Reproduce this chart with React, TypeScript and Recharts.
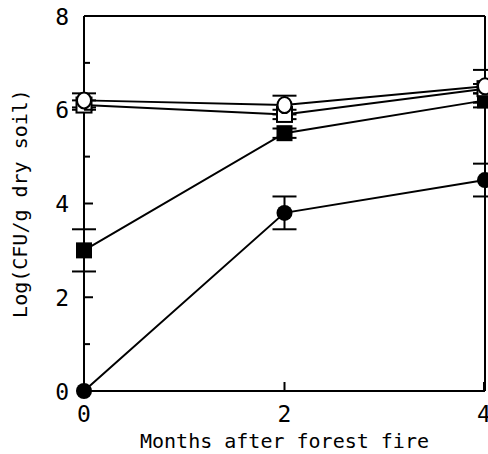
import React from 'react';
import { ComposedChart, Line, XAxis, YAxis, ErrorBar } from 'recharts';

const months = [0, 2, 4];
const openCircle = [6.2, 6.1, 6.5];
const openCircleErr = [0.15, 0.2, 0.35];
const openSquare = [6.1, 5.9, 6.45];
const openSquareErr = [0.1, 0.1, 0.1];
const filledSquare = [3.0, 5.5, 6.2];
const filledSquareErr = [0.45, 0.1, 0.15];
const filledCircle = [0, 3.8, 4.5];
const filledCircleErr = [0, 0.35, 0.35];

const yTicks = [0, 1, 2, 3, 4, 5, 6, 7, 8];
const yLabels = [0, 2, 4, 6, 8];
const xTicks = [0, 2, 4];

const build = (vals: number[], errs: number[]) =>
  months.map((m, i) => ({ month: m, value: vals[i], err: errs[i] }));

const INK = '#000';
const numFont = '"DejaVu Sans Mono", monospace';

const YTick = (props: any) => {
  const { x, y, payload } = props;
  const major = yLabels.includes(payload.value);
  const axisX = x + 8;
  return (
    <g>
      <line x1={axisX} y1={y} x2={axisX + (major ? 9 : 6)} y2={y} stroke={INK} strokeWidth={2} />
      {major && (
        <text x={x - 7} y={y + 8.5} textAnchor="end" fontSize={23} fontFamily={numFont} fill={INK}>
          {payload.value}
        </text>
      )}
    </g>
  );
};

const XTick = (props: any) => {
  const { x, y, payload } = props;
  const axisY = y - 6;
  return (
    <g>
      <line x1={x} y1={axisY} x2={x} y2={axisY - 9} stroke={INK} strokeWidth={2} />
      <text x={x} y={y + 25} textAnchor="middle" fontSize={23} fontFamily={numFont} fill={INK}>
        {payload.value}
      </text>
    </g>
  );
};

const dotShape = (kind: string) => (props: any) => {
  const { cx, cy, index } = props;
  const k = `${kind}-${index}`;
  if (kind === 'oc')
    return <ellipse key={k} cx={cx} cy={cy} rx={7} ry={8} fill="#fff" stroke={INK} strokeWidth={2} />;
  if (kind === 'os')
    return <rect key={k} x={cx - 7.5} y={cy - 7.5} width={15} height={15} fill="#fff" stroke={INK} strokeWidth={2} />;
  if (kind === 'fs')
    return <rect key={k} x={cx - 8} y={cy - 8} width={16} height={16} fill={INK} />;
  return <circle key={k} cx={cx} cy={cy} r={8} fill={INK} />;
};

const series = [
  { id: 'fc', data: build(filledCircle, filledCircleErr) },
  { id: 'fs', data: build(filledSquare, filledSquareErr) },
  { id: 'os', data: build(openSquare, openSquareErr) },
  { id: 'oc', data: build(openCircle, openCircleErr) },
];

export default function App() {
  return (
    <div style={{ position: 'absolute', left: 0, top: 0, background: '#fff' }}>
      <ComposedChart width={488} height={454} margin={{ top: 15, right: 2, bottom: 62, left: 83 }}>
        <XAxis
          dataKey="month"
          type="number"
          domain={[0, 4]}
          ticks={xTicks}
          allowDuplicatedCategory={false}
          height={1}
          stroke={INK}
          strokeWidth={2}
          tickLine={false}
          tickSize={0}
          tickMargin={6}
          tick={<XTick />}
          label={{ value: 'Months after forest fire', position: 'bottom', offset: 42, fontSize: 20, fontFamily: numFont, fill: INK }}
        />
        <XAxis xAxisId="top" orientation="top" type="number" domain={[0, 4]} tick={false} tickLine={false} stroke={INK} strokeWidth={2} height={1} />
        <YAxis
          type="number"
          domain={[0, 8]}
          ticks={yTicks}
          interval={0}
          width={1}
          stroke={INK}
          strokeWidth={2}
          tickLine={false}
          tickSize={0}
          tickMargin={8}
          tick={<YTick />}
          label={{ value: 'Log(CFU/g dry soil)', angle: -90, position: 'left', offset: 63, textAnchor: 'middle', fontSize: 20, fontFamily: numFont, fill: INK }}
        />
        <YAxis yAxisId="right" orientation="right" domain={[0, 8]} tick={false} tickLine={false} stroke={INK} strokeWidth={2} width={1} />
        {series.map((s) => (
          <Line
            key={s.id}
            data={s.data}
            dataKey="value"
            type="linear"
            stroke={INK}
            strokeWidth={2}
            dot={dotShape(s.id)}
            activeDot={false}
            isAnimationActive={false}
          >
            <ErrorBar dataKey="err" direction="y" width={12} stroke={INK} strokeWidth={2} />
          </Line>
        ))}
      </ComposedChart>
    </div>
  );
}
